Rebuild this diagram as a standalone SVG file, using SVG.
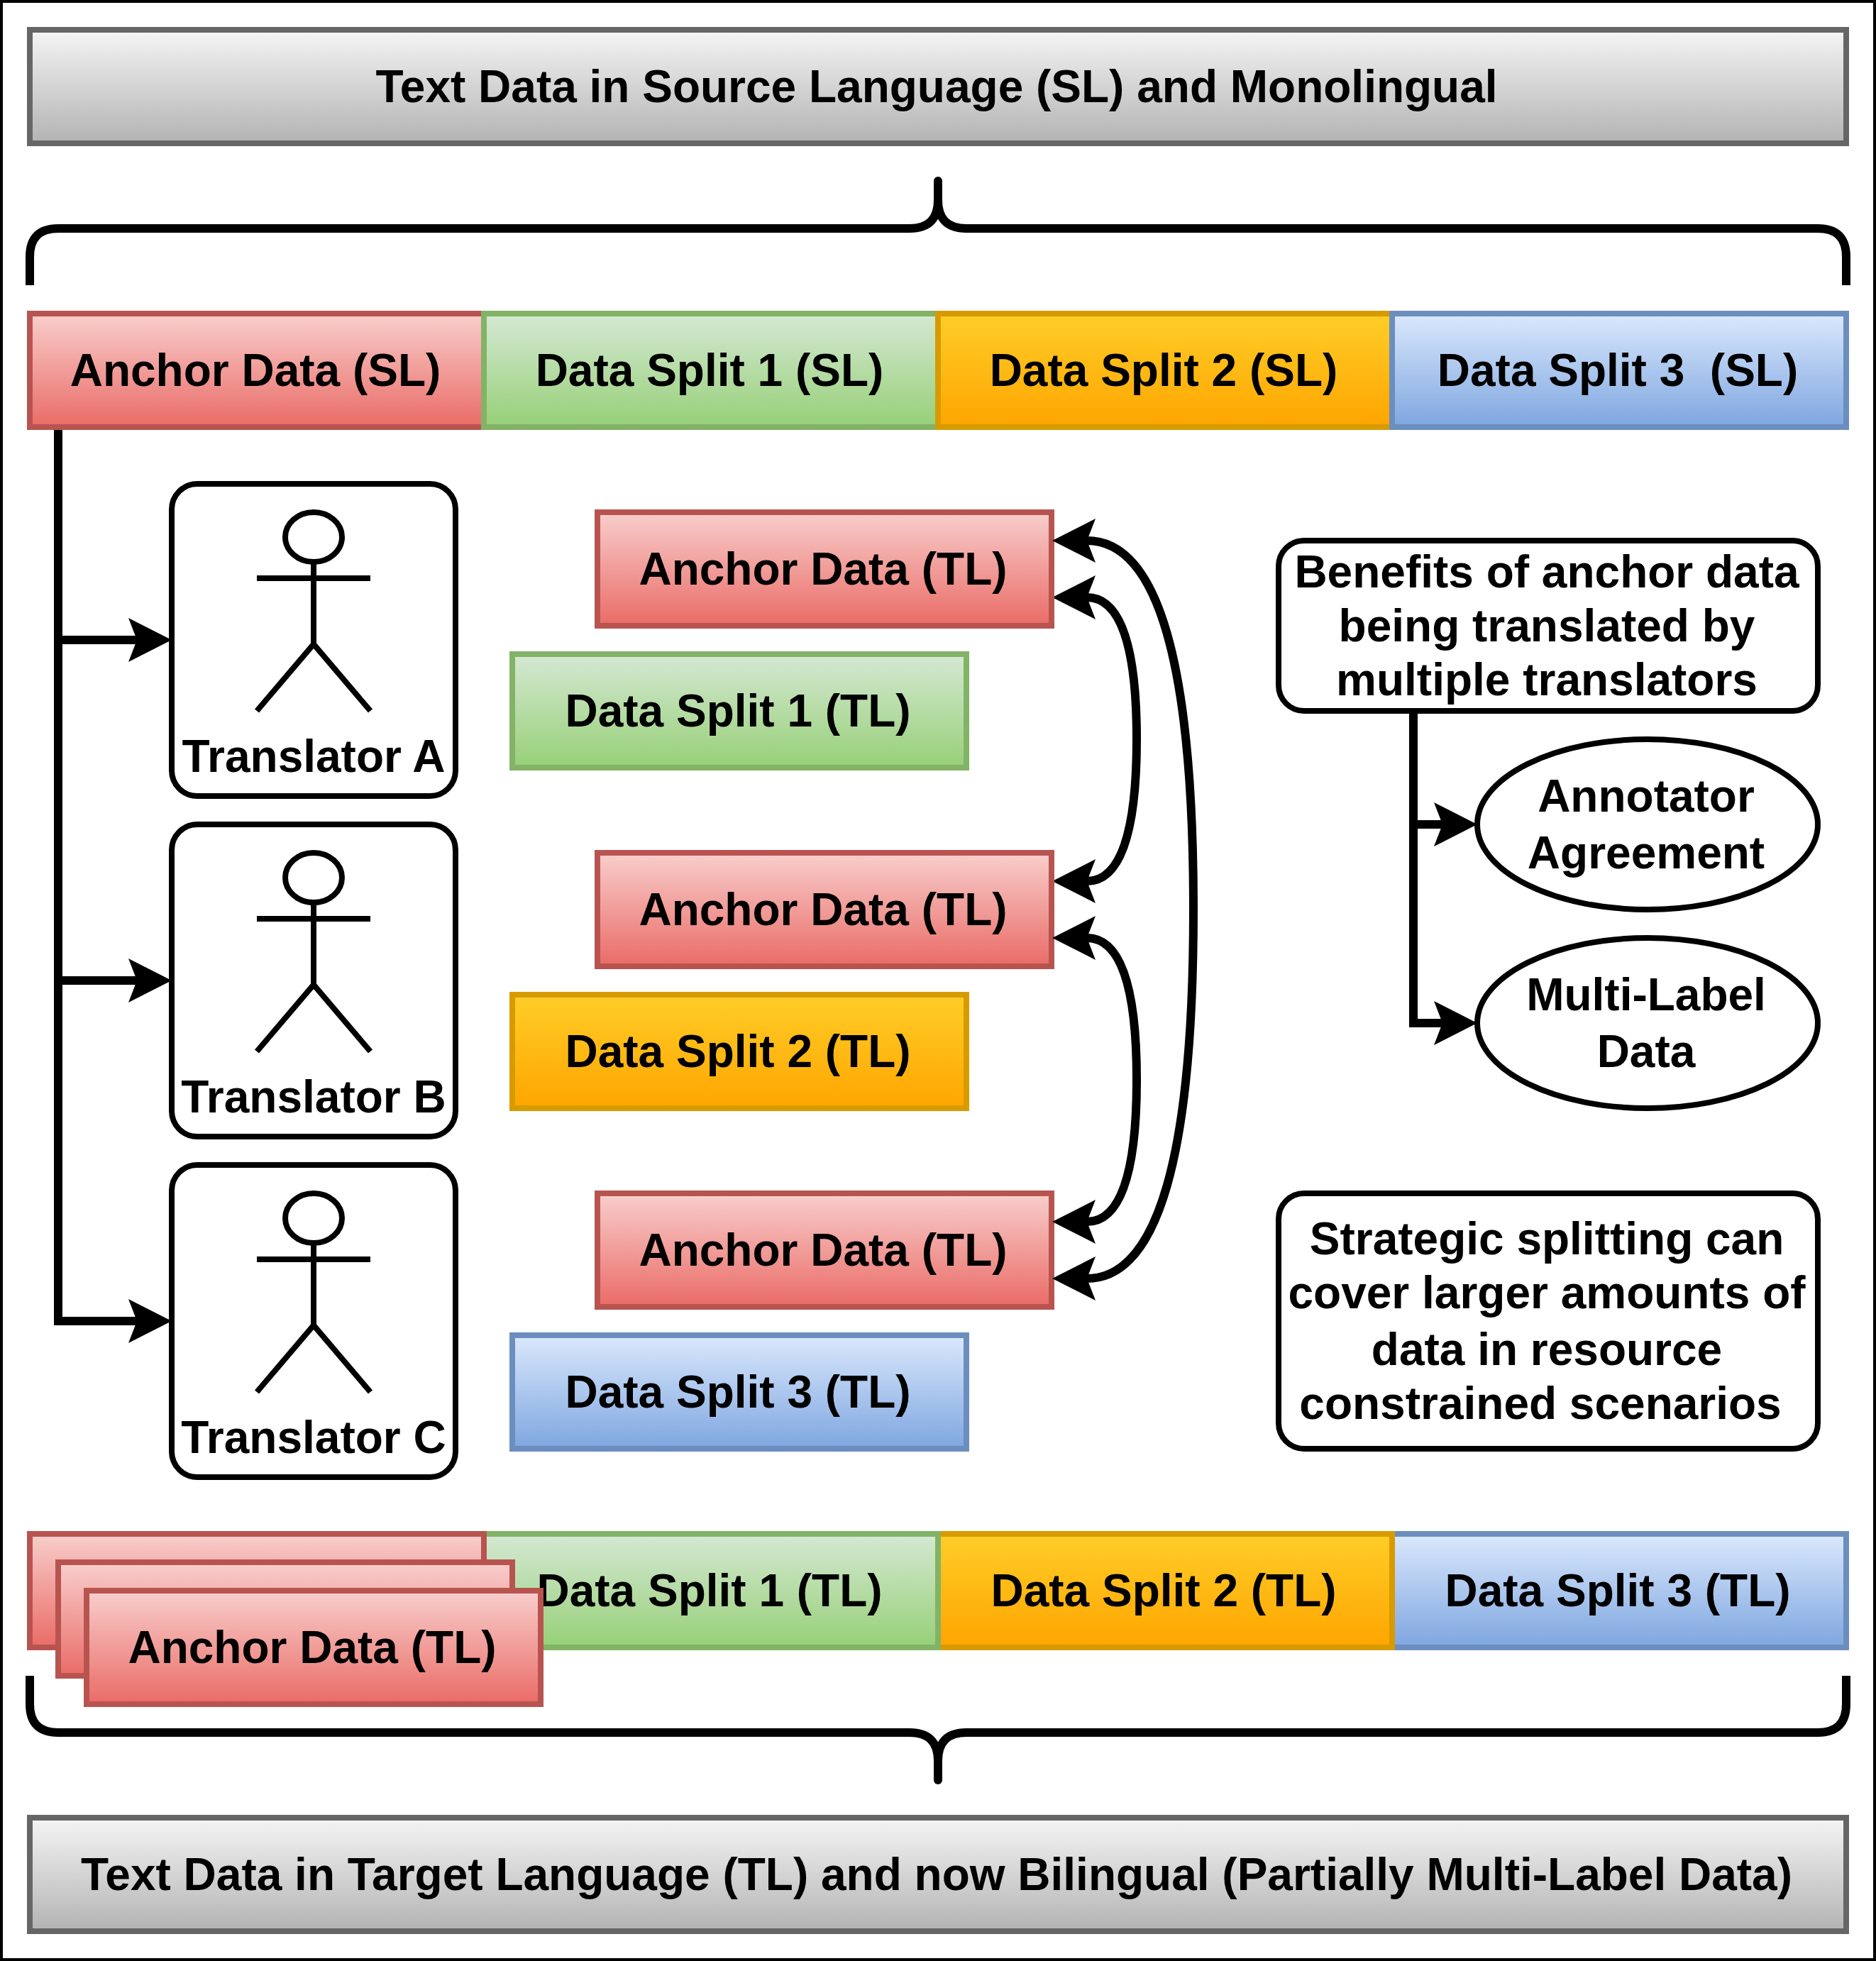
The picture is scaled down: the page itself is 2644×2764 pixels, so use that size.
<svg xmlns="http://www.w3.org/2000/svg" width="2644" height="2764" viewBox="0 0 2644 2764">
<style>
text{font-family:"Liberation Sans",Arial,sans-serif;font-weight:700;font-size:64px;fill:#000;text-anchor:middle;white-space:pre}
.red{fill:url(#gr);stroke:#b85450}
.green{fill:url(#gg);stroke:#82b366}
.orange{fill:url(#go);stroke:#d79b00}
.blue{fill:url(#gb);stroke:#6c8ebf}
.gray{fill:url(#gy);stroke:#666}
rect,ellipse{stroke-width:8}
.w{fill:#fff;stroke:#000}
.fig{fill:none;stroke:#000;stroke-width:8}
.brace{fill:none;stroke:#000;stroke-width:12}
.c{fill:none;stroke:#000;stroke-width:12;marker-end:url(#arrow)}
.d{fill:none;stroke:#000;stroke-width:12;marker-start:url(#arrow);marker-end:url(#arrow)}
.u{fill:none;stroke:#000;stroke-width:12;marker-start:url(#arrow-under);marker-end:url(#arrow-under)}
</style>
<defs>
<linearGradient id="gr" x1="0" y1="0" x2="0" y2="1"><stop offset="0" stop-color="#f8cecc"/><stop offset="1" stop-color="#ea6b66"/></linearGradient>
<linearGradient id="gg" x1="0" y1="0" x2="0" y2="1"><stop offset="0" stop-color="#d5e8d4"/><stop offset="1" stop-color="#97d077"/></linearGradient>
<linearGradient id="go" x1="0" y1="0" x2="0" y2="1"><stop offset="0" stop-color="#ffcd28"/><stop offset="1" stop-color="#ffa500"/></linearGradient>
<linearGradient id="gb" x1="0" y1="0" x2="0" y2="1"><stop offset="0" stop-color="#dae8fc"/><stop offset="1" stop-color="#7ea6e0"/></linearGradient>
<linearGradient id="gy" x1="0" y1="0" x2="0" y2="1"><stop offset="0" stop-color="#f5f5f5"/><stop offset="1" stop-color="#b3b3b3"/></linearGradient>
<marker id="arrow" markerUnits="userSpaceOnUse" markerWidth="64" markerHeight="66" viewBox="0 0 64 66" refX="13" refY="33" orient="auto-start-reverse"><path d="M62,33 L1,2 L13,33 L1,64 Z" fill="#000"/></marker>
<marker id="arrow-under" markerUnits="userSpaceOnUse" markerWidth="64" markerHeight="66" viewBox="0 0 64 66" refX="13" refY="33" orient="auto-start-reverse"><path d="M59,31.5 L1,2 L13,33 L1,64 L59,34.5 Z" fill="#000"/></marker>
<symbol id="actor" overflow="visible"><ellipse class="fig" cx="200" cy="75" rx="40" ry="35"/><path class="fig" d="M200,110V226M120,133H280M120,320L200,226L280,320"/></symbol>
</defs>
<rect id="frame" x="2" y="2" width="2640" height="2760" fill="#fff" stroke="#000" style="stroke-width:4"/>
<g id="source-title"><rect class="gray" x="42" y="42" width="2560" height="160"/><text x="1320" y="144">Text Data in Source Language (SL) and Monolingual</text></g>
<g id="brace-top"><path class="brace" d="M42,402V362Q42,322 82,322H1282Q1322,322 1322,282V255M2602,402V362Q2602,322 2562,322H1362Q1322,322 1322,282"/><circle cx="1322" cy="255" r="6"/></g>
<g id="sl-anchor"><rect class="red" x="42" y="442" width="640" height="160"/><text x="360" y="544">Anchor Data (SL)</text></g>
<g id="sl-split1"><rect class="green" x="682" y="442" width="640" height="160"/><text x="1000" y="544">Data Split 1 (SL)</text></g>
<g id="sl-split2"><rect class="orange" x="1322" y="442" width="640" height="160"/><text x="1640" y="544">Data Split 2 (SL)</text></g>
<g id="sl-split3"><rect class="blue" x="1962" y="442" width="640" height="160"/><text x="2280" y="544">Data Split 3  (SL)</text></g>
<g id="translator-a"><rect class="w" x="242" y="682" width="400" height="440" rx="36"/><use href="#actor" x="242" y="682"/><text x="442" y="1088">Translator A</text></g>
<g id="translator-b"><rect class="w" x="242" y="1162" width="400" height="440" rx="36"/><use href="#actor" x="242" y="1162"/><text x="442" y="1568">Translator B</text></g>
<g id="translator-c"><rect class="w" x="242" y="1642" width="400" height="440" rx="36"/><use href="#actor" x="242" y="1642"/><text x="442" y="2048">Translator C</text></g>
<g id="tl-anchor-a"><rect class="red" x="842" y="722" width="640" height="160"/><text x="1160" y="824">Anchor Data (TL)</text></g>
<g id="tl-split1"><rect class="green" x="722" y="922" width="640" height="160"/><text x="1040" y="1024">Data Split 1 (TL)</text></g>
<g id="tl-anchor-b"><rect class="red" x="842" y="1202" width="640" height="160"/><text x="1160" y="1304">Anchor Data (TL)</text></g>
<g id="tl-split2"><rect class="orange" x="722" y="1402" width="640" height="160"/><text x="1040" y="1504">Data Split 2 (TL)</text></g>
<g id="tl-anchor-c"><rect class="red" x="842" y="1682" width="640" height="160"/><text x="1160" y="1784">Anchor Data (TL)</text></g>
<g id="tl-split3"><rect class="blue" x="722" y="1882" width="640" height="160"/><text x="1040" y="1984">Data Split 3 (TL)</text></g>
<g id="benefits"><rect class="w" x="1802" y="762" width="760" height="240" rx="36"/><text x="2180" y="828">Benefits of anchor data</text><text x="2180" y="904">being translated by</text><text x="2180" y="980">multiple translators</text></g>
<g id="agreement"><ellipse class="w" cx="2322" cy="1162" rx="240" ry="120"/><text x="2320" y="1144">Annotator</text><text x="2320" y="1224">Agreement</text></g>
<g id="multilabel"><ellipse class="w" cx="2322" cy="1442" rx="240" ry="120"/><text x="2320" y="1424">Multi-Label</text><text x="2320" y="1504">Data</text></g>
<g id="strategic"><rect class="w" x="1802" y="1682" width="760" height="360" rx="36"/><text x="2180" y="1768">Strategic splitting can</text><text x="2180" y="1844">cover larger amounts of</text><text x="2180" y="1924">data in resource</text><text x="2171" y="2000">constrained scenarios</text></g>
<g id="tlbar-split3"><rect class="blue" x="1962" y="2162" width="640" height="160"/><text x="2280" y="2264">Data Split 3 (TL)</text></g>
<g id="tlbar-split2"><rect class="orange" x="1322" y="2162" width="640" height="160"/><text x="1640" y="2264">Data Split 2 (TL)</text></g>
<g id="tlbar-split1"><rect class="green" x="682" y="2162" width="640" height="160"/><text x="1000" y="2264">Data Split 1 (TL)</text></g>
<g id="tlbar-anchor-a"><rect class="red" x="42" y="2162" width="640" height="160"/></g>
<g id="tlbar-anchor-b"><rect class="red" x="82" y="2202" width="640" height="160"/></g>
<g id="tlbar-anchor-c"><rect class="red" x="122" y="2242" width="640" height="160"/><text x="440" y="2344">Anchor Data (TL)</text></g>
<g id="brace-bottom"><path class="brace" d="M42,2362V2402Q42,2442 82,2442H1282Q1322,2442 1322,2482V2509M2602,2362V2402Q2602,2442 2562,2442H1362Q1322,2442 1322,2482"/><circle cx="1322" cy="2509" r="6"/></g>
<g id="target-title"><rect class="gray" x="42" y="2562" width="2560" height="160"/><text x="1320" y="2664">Text Data in Target Language (TL) and now Bilingual (Partially Multi-Label Data)</text></g>
<g id="connectors">
<path class="c" d="M82,606V902H193"/>
<path class="c" d="M82,902V1382H193"/>
<path class="c" d="M82,1382V1862H193"/>
<path class="c" d="M1992,1002V1162H2033"/>
<path class="c" d="M1992,1162V1442H2033"/>
<path class="d" d="M1532,762Q1682,762 1682,1282Q1682,1802 1532,1802"/>
<path class="u" d="M1532,842Q1602,842 1602,1042Q1602,1242 1532,1242"/>
<path class="d" d="M1532,1322Q1602,1322 1602,1522Q1602,1722 1532,1722"/>
</g>
</svg>
